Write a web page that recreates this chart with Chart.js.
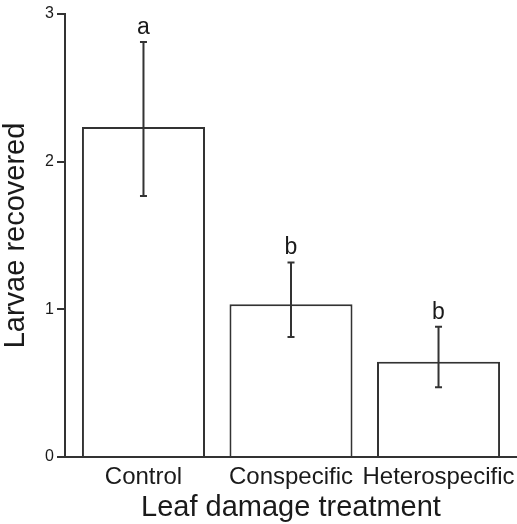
<!DOCTYPE html>
<html>
<head>
<meta charset="utf-8">
<script src="https://cdn.jsdelivr.net/npm/chart.js@4/dist/chart.umd.min.js"></script>
<style>
  html, body { margin: 0; padding: 0; background: #fff; }
  #wrap { width: 517px; height: 524px; position: relative; }
</style>
</head>
<body>
<div id="wrap"><canvas id="c"></canvas></div>
<script>
const categories = ['Control', 'Conspecific', 'Heterospecific'];
const means = [2.235, 1.034, 0.645];
const upperErr = [2.81, 1.318, 0.882];
const lowerErr = [1.767, 0.813, 0.472];
const sigLetters = ['a', 'b', 'b'];
const yTicks = [0, 1, 2, 3];

const FONT = "'Liberation Sans', Arial, Helvetica, sans-serif";
const INK = '#333333';
const TEXT = '#1a1a1a';

const errorBarPlugin = {
  id: 'errorBars',
  afterDatasetsDraw(chart) {
    const ctx = chart.ctx;
    const xs = chart.scales.x, ys = chart.scales.y;
    ctx.save();
    ctx.strokeStyle = INK;
    ctx.lineWidth = 2;
    ctx.fillStyle = TEXT;
    ctx.font = '23px ' + FONT;
    ctx.textAlign = 'center';
    ctx.textBaseline = 'alphabetic';
    const cap = 3.5;
    categories.forEach((c, i) => {
      const x = xs.getPixelForValue(i);
      const yHi = ys.getPixelForValue(upperErr[i]);
      const yLo = ys.getPixelForValue(lowerErr[i]);
      ctx.beginPath();
      ctx.moveTo(x, yHi); ctx.lineTo(x, yLo);
      ctx.moveTo(x - cap, yHi); ctx.lineTo(x + cap, yHi);
      ctx.moveTo(x - cap, yLo); ctx.lineTo(x + cap, yLo);
      ctx.stroke();
      ctx.fillText(sigLetters[i], x, yHi - 8);
    });
    ctx.restore();
  }
};

new Chart(document.getElementById('c'), {
  type: 'bar',
  data: {
    datasets: [{
      data: categories.map((c, i) => ({ x: i, y: means[i] })),
      backgroundColor: '#ffffff',
      borderColor: INK,
      borderWidth: 2,
      borderSkipped: 'bottom',
      categoryPercentage: 1,
      barPercentage: 0.834
    }]
  },
  options: {
    responsive: true,
    maintainAspectRatio: false,
    animation: false,
    devicePixelRatio: 1,
    layout: { padding: { top: 14, right: 0, bottom: 0, left: 0 } },
    plugins: { legend: { display: false }, tooltip: { enabled: false } },
    scales: {
      x: {
        type: 'linear',
        min: -0.532,
        max: 2.532,
        offset: false,
        afterBuildTicks: (s) => { s.ticks = categories.map((c, i) => ({ value: i })); },
        afterFit: (s) => { s.height = 67; s.paddingLeft = 0; s.paddingRight = 0; },
        grid: { display: false, drawTicks: false },
        border: { display: true, color: INK, width: 2, z: 1 },
        ticks: {
          autoSkip: false, maxRotation: 0, minRotation: 0,
          padding: 6,
          color: TEXT,
          font: { family: FONT, size: 24 },
          callback: (v) => categories[v]
        },
        title: {
          display: true,
          text: 'Leaf damage treatment',
          color: TEXT,
          font: { family: FONT, size: 29, lineHeight: 1 },
          padding: { top: 0, bottom: 2 }
        }
      },
      y: {
        min: 0,
        max: 3,
        afterBuildTicks: (s) => { s.ticks = yTicks.map(v => ({ value: v })); },
        afterFit: (s) => { s.width = 65; s.paddingTop = 0; s.paddingBottom = 0; },
        grid: { drawOnChartArea: false, drawTicks: true, tickLength: 8, color: INK, lineWidth: 2 },
        border: { display: true, color: INK, width: 2 },
        ticks: {
          padding: 3,
          color: TEXT,
          font: { family: FONT, size: 16 },
          callback: (v) => String(v)
        },
        title: {
          display: true,
          text: 'Larvae recovered',
          color: TEXT,
          font: { family: FONT, size: 29, lineHeight: 1 },
          padding: { top: 1, bottom: 0 }
        }
      }
    }
  },
  plugins: [errorBarPlugin]
});
</script>
</body>
</html>
